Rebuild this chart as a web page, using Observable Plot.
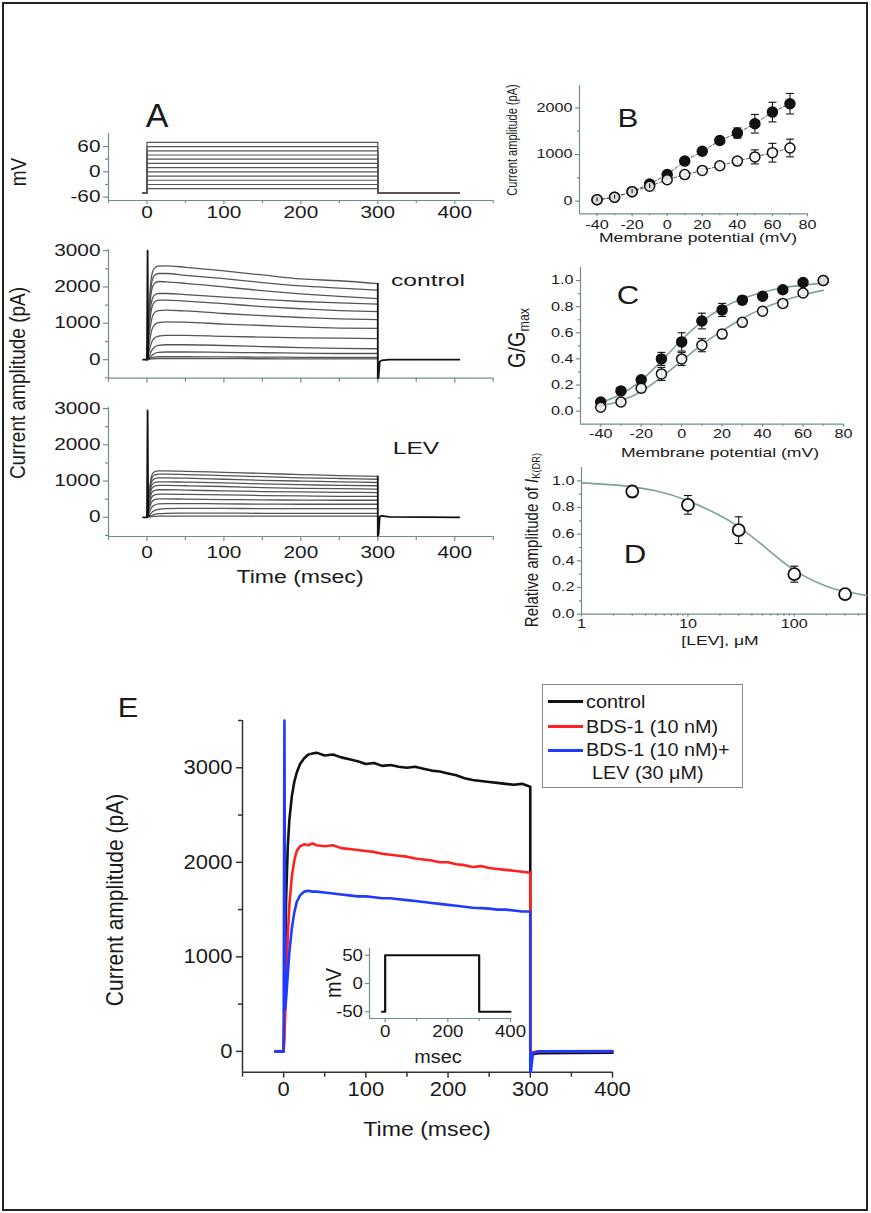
<!DOCTYPE html>
<html><head><meta charset="utf-8">
<script src="https://cdn.jsdelivr.net/npm/d3@7"></script>
<script src="https://cdn.jsdelivr.net/npm/@observablehq/plot@0.6"></script>
<style>
html,body{margin:0;padding:0;background:#fff;}
#fig{position:relative;width:871px;height:1213px;overflow:hidden;background:#fff;font-family:"Liberation Sans",Arial,Helvetica,sans-serif;}
#border{position:absolute;left:2px;top:2px;width:866px;height:1209px;border:2px solid #222;box-sizing:border-box;}
.lbl{position:absolute;white-space:nowrap;color:#1a1a1a;line-height:1;transform-origin:0 0;}
.lbl sub{font-size:62%;vertical-align:-0.25em;line-height:0;}
svg{position:absolute;overflow:visible;}
</style></head>
<body><div id="fig"><div id="border"></div></div>
<script>
// ================= DATA =================
// Panel A – voltage protocol
const stepVoltages = [-40, -30, -20, -10, 0, 10, 20, 30, 40, 50, 60, 70];
const holdingVoltage = -50;
const pulseTimes = [-5, 0, 0, 300, 300, 406];

// Panel A – current families (rows: -40 ... +70 mV)
const traceTimes = [0, 3, 6, 10, 15, 25, 50, 100, 150, 200, 250, 300];
const controlTraces = [
  [0, 10, 20, 25, 30, 30, 30, 28, 25, 22, 20, 20],
  [0, 20, 50, 70, 80, 80, 80, 75, 70, 65, 60, 60],
  [0, 40, 110, 170, 200, 210, 210, 200, 190, 180, 170, 170],
  [0, 100, 250, 350, 390, 410, 410, 390, 360, 330, 310, 300],
  [0, 250, 480, 600, 650, 670, 670, 640, 620, 600, 590, 580],
  [0, 450, 800, 960, 1020, 1040, 1030, 980, 940, 900, 870, 860],
  [0, 700, 1100, 1300, 1350, 1360, 1340, 1270, 1210, 1160, 1120, 1100],
  [0, 900, 1400, 1590, 1640, 1640, 1610, 1540, 1460, 1400, 1350, 1320],
  [0, 1050, 1600, 1780, 1820, 1820, 1790, 1720, 1660, 1600, 1560, 1530],
  [0, 1250, 1900, 2100, 2150, 2140, 2100, 2000, 1900, 1810, 1740, 1680],
  [0, 1400, 2100, 2320, 2370, 2370, 2320, 2230, 2120, 2030, 1970, 1910],
  [0, 1500, 2300, 2520, 2570, 2580, 2540, 2440, 2330, 2220, 2170, 2090]
];
const levTraces = [
  [0, 10, 20, 25, 30, 30, 30, 30, 30, 30, 30, 30],
  [0, 20, 50, 80, 100, 110, 115, 115, 110, 110, 110, 110],
  [0, 50, 130, 190, 220, 240, 245, 245, 240, 240, 240, 240],
  [0, 130, 270, 340, 370, 380, 380, 370, 365, 360, 360, 360],
  [0, 230, 420, 490, 510, 510, 500, 490, 480, 475, 470, 470],
  [0, 320, 550, 620, 640, 640, 630, 620, 600, 590, 580, 580],
  [0, 400, 670, 740, 760, 760, 750, 730, 710, 700, 690, 680],
  [0, 470, 780, 860, 880, 880, 870, 850, 820, 800, 790, 780],
  [0, 540, 880, 960, 980, 980, 970, 950, 920, 900, 880, 870],
  [0, 600, 980, 1070, 1090, 1090, 1080, 1050, 1020, 1000, 980, 960],
  [0, 650, 1070, 1170, 1190, 1190, 1180, 1150, 1120, 1090, 1070, 1050],
  [0, 700, 1150, 1260, 1280, 1280, 1270, 1240, 1210, 1180, 1150, 1130]
];
const spikeTimes = [-5, 0, 0.8, 1.6, 3];
const controlSpike = [0, 0, 3000, 60, 40];
const levSpike = [0, 0, 2950, 60, 40];
const tailTimes = [300, 300, 301, 302.5, 305, 315, 406];
const controlTail = [2090, -510, -480, -60, -20, 0, 0];
const levTail = [1130, -510, -470, 20, 40, 10, 0];

// Panel B – I–V relation
const bVoltage = [-40, -30, -20, -10, 0, 10, 20, 30, 40, 50, 60, 70];
const bControl = [30, 85, 205, 370, 570, 860, 1070, 1300, 1460, 1660, 1910, 2090];
const bControlErr = [40, 40, 40, 50, 60, 50, 70, 70, 110, 200, 210, 220];
const bLev = [30, 85, 205, 320, 460, 570, 660, 760, 860, 950, 1040, 1140];
const bLevErr = [40, 40, 40, 50, 50, 40, 40, 50, 60, 150, 200, 190];

// Panel C – activation curves
const cVoltage = [-40, -30, -20, -10, 0, 10, 20, 30, 40, 50, 60, 70];
const cControl = [0.07, 0.155, 0.24, 0.40, 0.53, 0.69, 0.775, 0.85, 0.88, 0.93, 0.985, 1.0];
const cControlErr = [0.02, 0.02, 0.02, 0.05, 0.07, 0.06, 0.05, 0.03, 0.02, 0.02, 0.02, 0.01];
const cLev = [0.03, 0.07, 0.175, 0.285, 0.40, 0.505, 0.59, 0.68, 0.765, 0.825, 0.905, 1.0];
const cLevErr = [0.02, 0.02, 0.03, 0.05, 0.05, 0.05, 0.03, 0.02, 0.02, 0.02, 0.02, 0.02];
const cFitControl = [0.065, 0.13, 0.235, 0.385, 0.545, 0.685, 0.79, 0.86, 0.91, 0.945, 0.965, 0.98];
const cFitLev = [0.04, 0.08, 0.15, 0.26, 0.385, 0.51, 0.615, 0.71, 0.785, 0.845, 0.89, 0.925];

// Panel D – concentration–response
const dConc = [3, 10, 30, 100, 300];
const dRel = [0.92, 0.82, 0.63, 0.30, 0.15];
const dErr = [0.04, 0.07, 0.10, 0.06, 0.02];
const dFitConc = [1, 2, 3, 5, 10, 20, 30, 50, 100, 200, 300, 480];
const dFitRel = [0.985, 0.97, 0.955, 0.925, 0.85, 0.74, 0.655, 0.52, 0.33, 0.21, 0.17, 0.14];

// Panel E – representative traces
const eTimes = [-10, 0, 1, 2, 3, 5, 7, 10, 13, 16, 20, 25, 30, 35, 40, 50, 60, 70, 80, 90, 100, 110, 120, 130, 140, 150, 160, 170, 180, 190, 200, 210, 220, 230, 240, 250, 260, 270, 280, 290, 300, 300, 301, 303, 310, 400];
const eControl = [0, 0, 400, 1000, 1600, 2150, 2450, 2700, 2850, 2950, 3040, 3100, 3140, 3150, 3160, 3130, 3140, 3110, 3090, 3070, 3040, 3050, 3020, 3030, 3010, 3000, 3010, 2990, 2970, 2960, 2940, 2920, 2890, 2870, 2860, 2850, 2840, 2830, 2820, 2830, 2800, -150, -100, -30, -20, -15];
const eBDS = [0, 0, 150, 400, 700, 1200, 1550, 1850, 2020, 2120, 2170, 2190, 2180, 2200, 2180, 2170, 2180, 2150, 2140, 2130, 2120, 2110, 2090, 2080, 2070, 2060, 2040, 2030, 2020, 2000, 2000, 1980, 1970, 1950, 1960, 1940, 1930, 1920, 1910, 1900, 1890, -100, -60, -10, 0, 5];
const eBDSLev = [0, 0, 3500, 450, 550, 800, 1050, 1300, 1470, 1580, 1650, 1690, 1700, 1690, 1690, 1680, 1670, 1660, 1650, 1640, 1640, 1630, 1620, 1620, 1610, 1600, 1590, 1580, 1570, 1560, 1550, 1540, 1530, 1520, 1515, 1510, 1500, 1500, 1490, 1480, 1480, -220, -200, -20, 0, 0];
const eSeriesNames = ["control", "BDS-1 (10 nM)", "BDS-1 (10 nM)+", "LEV (30 \u03bcM)"];
const eColors = ["#111111", "#ff2020", "#1f3bff"];

// Panel E inset – voltage protocol
const insetTimes = [-10, 0, 0, 300, 300, 400];
const insetVoltage = [-50, -50, 50, 50, -50, -50];

// ================= HELPERS =================
const fig = document.getElementById("fig");
const FONT = '"Liberation Sans", Arial, Helvetica, sans-serif';
const axisCol = "#6f8f8c";
const txtCol = "#1a1a1a";

function stretchLabels(svg, sx) {
  if (sx === 1) return;
  svg.querySelectorAll('g[aria-label$="tick label"] text').forEach(t => {
    const tr = t.getAttribute("transform");
    if (tr) t.setAttribute("transform", tr + ` scale(${sx},1)`);
  });
}

function panel(o) {
  const {x0, x1, y0, y1, mL = 70, mT = 12, sx = 1, fs = 12, x, y, marks} = o;
  const mR0 = o.mR ?? 20, mB0 = o.mB ?? 40;
  const W = Math.ceil(x1 - x0 + mL + mR0), H = Math.ceil(y1 - y0 + mT + mB0);
  const svg = Plot.plot({
    width: W, height: H,
    marginLeft: mL, marginRight: W - mL - (x1 - x0),
    marginTop: mT, marginBottom: H - mT - (y1 - y0),
    x, y,
    style: {fontFamily: FONT, fontSize: fs + "px", color: txtCol, background: "transparent", overflow: "visible"},
    marks
  });
  svg.style.left = (x0 - mL) + "px";
  svg.style.top = (y0 - mT) + "px";
  stretchLabels(svg, sx);
  fig.appendChild(svg);
  return svg;
}

function label(html, x, y, size, opt = {}) {
  const {rotate = 0, sx = 1, anchor = "middle", weight = 400, color = txtCol} = opt;
  const d = document.createElement("div");
  d.className = "lbl";
  d.innerHTML = html;
  Object.assign(d.style, {left: x + "px", top: y + "px", fontSize: size + "px", fontWeight: weight, color});
  const tx = anchor === "middle" ? "-50%" : anchor === "start" ? "0%" : "-100%";
  const sc = rotate ? `scale(1,${sx})` : `scale(${sx},1)`;
  d.style.transform = `rotate(${rotate}deg) ${sc} translate(${tx},-50%)`;
  fig.appendChild(d);
  return d;
}

const fmt = d => String(d);
const blank = () => "";
const capSymbol = w => ({draw(ctx) { ctx.moveTo(-w, 0); ctx.lineTo(w, 0); }});

function axes({xDom, yDom, xLab, xMin, yLab, yMin, xFmt = fmt, yFmt = fmt, col = axisCol, xTick = 4, xPad = 3, yTick = 5, yPad = 3, sw = 1.2, showX = true}) {
  const m = [
    Plot.ruleX([xDom[0]], {stroke: col, strokeWidth: sw}),
    Plot.ruleY([yDom[0]], {stroke: col, strokeWidth: sw}),
    Plot.axisY({ticks: yLab, tickSize: yTick, tickPadding: yPad, tickFormat: yFmt, stroke: col, strokeWidth: sw, label: null, anchor: "left"}),
    Plot.axisX({ticks: xLab, tickSize: xTick, tickPadding: xPad, tickFormat: showX ? xFmt : blank, stroke: col, strokeWidth: sw, label: null, anchor: "bottom"})
  ];
  if (yMin) m.push(Plot.axisY({ticks: yMin, tickSize: Math.max(2, yTick - 2), tickFormat: blank, stroke: col, strokeWidth: sw, label: null, anchor: "left"}));
  if (xMin) m.push(Plot.axisX({ticks: xMin, tickSize: Math.max(2, xTick - 1), tickFormat: blank, stroke: col, strokeWidth: sw, label: null, anchor: "bottom"}));
  return m;
}

// ================= PANEL A =================
const aX = [-50, 450];
const aXLab = [0, 100, 200, 300, 400];
const aXMin = [-50, 50, 150, 250, 350, 450];

const pulseData = stepVoltages.flatMap(v => pulseTimes.map((t, j) => ({t, v: (j === 2 || j === 3) ? v : holdingVoltage, step: v})));
const a1Y = [-68, 91];
panel({x0: 108, x1: 492.7, y0: 133, y1: 200, fs: 16, sx: 1.3, mL: 70, mB: 30,
  x: {domain: aX}, y: {domain: a1Y},
  marks: [
    ...axes({xDom: aX, yDom: a1Y, xLab: aXLab, xMin: aXMin, yLab: [-60, 0, 60], yMin: [-30, 30], xTick: 4, xPad: 2}),
    Plot.line(pulseData, {x: "t", y: "v", z: "step", stroke: "#555", strokeWidth: 1.2})
  ]});

function familyData(rows) {
  return rows.flatMap((vals, k) => vals.map((v, j) => ({t: traceTimes[j], i: v, k})));
}
function tracePanel(rows, spike, tail, y0, y1, yDom, showX) {
  const spikeData = spikeTimes.map((t, j) => ({t, i: spike[j]}));
  const tailData = tailTimes.map((t, j) => ({t, i: tail[j]}));
  panel({x0: 108, x1: 492.7, y0, y1, fs: 16, sx: 1.3, mL: 70, mB: 30,
    x: {domain: aX}, y: {domain: yDom},
    marks: [
      ...axes({xDom: aX, yDom, xLab: aXLab, xMin: aXMin, yLab: [0, 1000, 2000, 3000], yMin: [-500, 500, 1500, 2500], xTick: 5, xPad: 5, showX}),
      Plot.line(familyData(rows), {x: "t", y: "i", z: "k", stroke: "#555", strokeWidth: 1.3, curve: "monotone-x"}),
      Plot.line(spikeData, {x: "t", y: "i", stroke: "#111", strokeWidth: 1.8}),
      Plot.line(tailData, {x: "t", y: "i", stroke: "#111", strokeWidth: 1.8})
    ]});
}
tracePanel(controlTraces, controlSpike, controlTail, 249, 377.7, [-510, 3030], false);
tracePanel(levTraces, levSpike, levTail, 407, 536, [-530, 3030], true);

label("A", 157, 115, 34);
label("mV", 18, 172, 19, {rotate: -90, sx: 1.2});
label("Current amplitude (pA)", 17, 383, 19, {rotate: -90, sx: 1.2});
label("control", 428, 280, 17, {sx: 1.45});
label("LEV", 416, 448, 17, {sx: 1.45});
label("Time (msec)", 300, 577, 18, {sx: 1.28});

// ================= PANEL B =================
const bX = [-50, 80], bY = [-270, 2480];
const bCtrlData = bVoltage.map((v, j) => ({v, y: bControl[j], e: bControlErr[j]}));
const bLevData = bVoltage.map((v, j) => ({v, y: bLev[j], e: bLevErr[j]}));
function errMarks(data, xk, capW) {
  return [
    Plot.ruleX(data, {x: xk, y1: d => d.y - d.e, y2: d => d.y + d.e, stroke: "#111", strokeWidth: 1.1}),
    Plot.dot(data, {x: xk, y: d => d.y + d.e, symbol: capSymbol(capW), r: 2, stroke: "#111", fill: "none", strokeWidth: 1.1}),
    Plot.dot(data, {x: xk, y: d => d.y - d.e, symbol: capSymbol(capW), r: 2, stroke: "#111", fill: "none", strokeWidth: 1.1})
  ];
}
panel({x0: 579, x1: 807, y0: 85, y1: 213.3, fs: 12, sx: 1.35, mL: 60, mB: 30,
  x: {domain: bX}, y: {domain: bY},
  marks: [
    ...axes({xDom: bX, yDom: bY, xLab: [-40, -20, 0, 20, 40, 60, 80], xMin: [-30, -10, 10, 30, 50, 70], yLab: [0, 1000, 2000], yMin: [500, 1500], xTick: 3, xPad: 3.5, yTick: 4, yPad: 3}),
    Plot.line(bCtrlData, {x: "v", y: "y", stroke: "#555", strokeWidth: 1, strokeDasharray: "3,2"}),
    Plot.line(bLevData, {x: "v", y: "y", stroke: "#555", strokeWidth: 1, strokeDasharray: "3,2"}),
    ...errMarks(bCtrlData, "v", 4),
    ...errMarks(bLevData, "v", 4),
    Plot.dot(bCtrlData, {x: "v", y: "y", r: 5, fill: "#111", stroke: "#111"}),
    Plot.dot(bLevData, {x: "v", y: "y", r: 5, fill: "#fff", fillOpacity: 0.85, stroke: "#111", strokeWidth: 1.5}),
    Plot.ruleX(bLevData.filter(d => d.v < -5), {x: "v", y1: d => d.y - d.e, y2: d => d.y + d.e, stroke: "#111", strokeWidth: 1.1})
  ]});
label("B", 628, 118, 26, {sx: 1.2});
label("Current amplitude (pA)", 512, 140, 11, {rotate: -90, sx: 1.3});
label("Membrane potential (mV)", 698, 237, 13, {sx: 1.35});

// ================= PANEL C =================
const cX = [-50, 80], cY = [-0.1, 1.1];
const cCtrlData = cVoltage.map((v, j) => ({v, y: cControl[j], e: cControlErr[j]}));
const cLevData = cVoltage.map((v, j) => ({v, y: cLev[j], e: cLevErr[j]}));
const cFitCtrlData = cVoltage.map((v, j) => ({v, y: cFitControl[j]}));
const cFitLevData = cVoltage.map((v, j) => ({v, y: cFitLev[j]}));
const f1 = d3.format(".1f");
panel({x0: 580, x1: 843, y0: 267.3, y1: 424, fs: 12, sx: 1.35, mL: 60, mB: 30,
  x: {domain: cX}, y: {domain: cY},
  marks: [
    ...axes({xDom: cX, yDom: cY, xLab: [-40, -20, 0, 20, 40, 60, 80], xMin: [-30, -10, 10, 30, 50, 70], yLab: [0, 0.2, 0.4, 0.6, 0.8, 1.0], yMin: [0.1, 0.3, 0.5, 0.7, 0.9], yFmt: f1, xTick: 3, xPad: 2.5, yTick: 4, yPad: 3}),
    Plot.line(cFitCtrlData, {x: "v", y: "y", stroke: "#7fa09c", strokeWidth: 1.6, curve: "natural"}),
    Plot.line(cFitLevData, {x: "v", y: "y", stroke: "#7fa09c", strokeWidth: 1.6, curve: "natural"}),
    ...errMarks(cCtrlData, "v", 4),
    ...errMarks(cLevData, "v", 4),
    Plot.dot(cCtrlData, {x: "v", y: "y", r: 5, fill: "#111", stroke: "#111"}),
    Plot.dot(cLevData, {x: "v", y: "y", r: 5, fill: "#fff", fillOpacity: 0.85, stroke: "#111", strokeWidth: 1.5})
  ]});
label("C", 628, 295, 26, {sx: 1.2});
label("G/G<sub>max</sub>", 517, 338, 20, {rotate: -90, sx: 1.2});
label("Membrane potential (mV)", 720, 452, 13, {sx: 1.35});

// ================= PANEL D =================
const dX = [1, 480], dY = [0, 1.1];
const dData = dConc.map((c, j) => ({c, y: dRel[j], e: dErr[j]}));
const dFitData = dFitConc.map((c, j) => ({c, y: dFitRel[j]}));
panel({x0: 580.7, x1: 866, y0: 467.3, y1: 614, fs: 12, sx: 1.35, mL: 60, mB: 30, mR: 10,
  x: {type: "log", domain: dX}, y: {domain: dY},
  marks: [
    ...axes({xDom: dX, yDom: dY, xLab: [1, 10, 100], xMin: [2, 3, 4, 5, 6, 7, 8, 9, 20, 30, 40, 50, 60, 70, 80, 90, 200, 300, 400], yLab: [0, 0.2, 0.4, 0.6, 0.8, 1.0], yMin: [0.1, 0.3, 0.5, 0.7, 0.9], yFmt: f1, xTick: 3, xPad: 2.5, yTick: 4, yPad: 3}),
    Plot.line(dFitData, {x: "c", y: "y", stroke: "#7fa09c", strokeWidth: 1.6, curve: "natural"}),
    ...errMarks(dData, "c", 4),
    Plot.dot(dData, {x: "c", y: "y", r: 6, fill: "#fff", stroke: "#111", strokeWidth: 1.8})
  ]});
label("D", 635, 554, 26, {sx: 1.2});
label("Relative amplitude of <i>I</i><sub>K(DR)</sub>", 531, 540, 15, {rotate: -90, sx: 1.2});
label("[LEV], \u03bcM", 720, 640, 13, {sx: 1.35});

// ================= PANEL E =================
const eX = [-50, 400], eY = [-220, 3500];
const eData = [eControl, eBDS, eBDSLev].flatMap((vals, s) => vals.map((v, j) => ({t: eTimes[j], i: v, s})));
panel({x0: 241.7, x1: 611.7, y0: 720, y1: 1071.7, fs: 20, sx: 1.1, mL: 80, mB: 40,
  x: {domain: eX}, y: {domain: eY},
  marks: [
    ...axes({xDom: eX, yDom: eY, xLab: [0, 100, 200, 300, 400], xMin: [-50, 50, 150, 250, 350], yLab: [0, 1000, 2000, 3000], yMin: [500, 1500, 2500, 3500], col: "#333", sw: 1.5, xTick: 6, xPad: 4, yTick: 6, yPad: 4}),
    Plot.line(eData, {x: "t", y: "i", z: "s", stroke: d => eColors[d.s], strokeWidth: 2.6})
  ]});
const insetData = insetTimes.map((t, j) => ({t, v: insetVoltage[j]}));
const inX = [-50, 400], inY = [-62, 62];
panel({x0: 369, x1: 510, y0: 948.3, y1: 1018.3, fs: 17, sx: 1.1, mL: 50, mB: 30, mR: 25,
  x: {domain: inX}, y: {domain: inY},
  marks: [
    ...axes({xDom: inX, yDom: inY, xLab: [0, 200, 400], xMin: [100, 300], yLab: [-50, 0, 50], xTick: 4, xPad: 2, yTick: 4, yPad: 2.5, sw: 1.2}),
    Plot.line(insetData, {x: "t", y: "v", stroke: "#111", strokeWidth: 2.2})
  ]});
label("E", 128, 708, 28, {sx: 1.1});
label("Current amplitude (pA)", 115, 900, 21, {rotate: -90, sx: 1.1});
label("Time (msec)", 427, 1128, 21, {sx: 1.1});
label("mV", 333, 983, 20, {rotate: -90, sx: 1.1});
label("msec", 438, 1057, 18, {sx: 1.1});

// legend
const lg = document.createElement("div");
Object.assign(lg.style, {position: "absolute", left: "541.7px", top: "684px", width: "201px", height: "104px", border: "1px solid #888", boxSizing: "border-box"});
fig.appendChild(lg);
const legendY = [701.7, 726.7, 750];
eColors.forEach((c, k) => {
  const ln = document.createElement("div");
  Object.assign(ln.style, {position: "absolute", left: "548px", top: (legendY[k] - 1.5) + "px", width: "35px", height: "3px", background: c});
  fig.appendChild(ln);
  label(eSeriesNames[k], 586, legendY[k], 18, {anchor: "start", sx: 1.1});
});
label(eSeriesNames[3], 591.7, 773.3, 18, {anchor: "start", sx: 1.1});
</script>
</body></html>
